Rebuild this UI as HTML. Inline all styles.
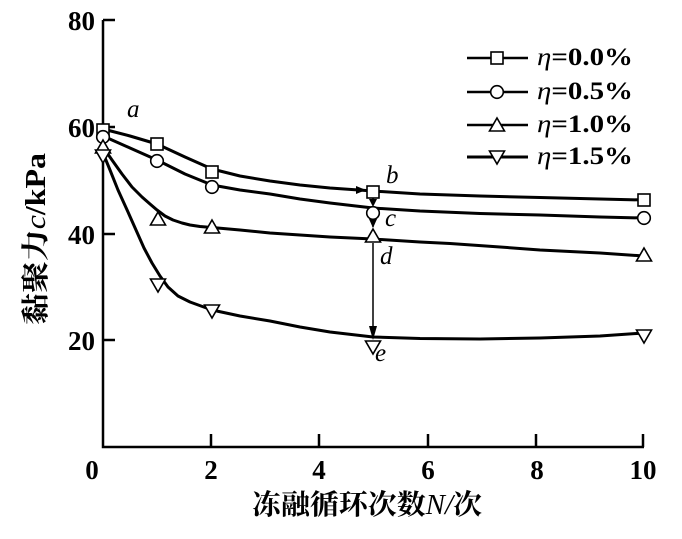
<!DOCTYPE html>
<html>
<head>
<meta charset="utf-8">
<style>
html,body{margin:0;padding:0;background:#fff;}
svg{display:block;}
.num{font-family:"Liberation Serif","Noto Serif CJK SC",serif;font-weight:bold;font-size:27px;fill:#000;}
.it{font-family:"Liberation Serif",serif;font-style:italic;font-size:25px;fill:#000;}
</style>
</head>
<body>
<svg width="682" height="539" viewBox="0 0 682 539" xmlns="http://www.w3.org/2000/svg">
<rect width="682" height="539" fill="#fff"/>
<!-- axes -->
<g stroke="#000" stroke-width="2.5" fill="none">
<polyline points="103,20 103,447 644,447"/>
<line x1="103" y1="20" x2="115" y2="20"/>
<line x1="103" y1="127" x2="115" y2="127"/>
<line x1="103" y1="234" x2="115" y2="234"/>
<line x1="103" y1="340" x2="115" y2="340"/>
<line x1="211" y1="447" x2="211" y2="434"/>
<line x1="319" y1="447" x2="319" y2="434"/>
<line x1="428" y1="447" x2="428" y2="434"/>
<line x1="536" y1="447" x2="536" y2="434"/>
<line x1="643" y1="447" x2="643" y2="434"/>
</g>
<!-- y tick labels -->
<g class="num" text-anchor="end">
<text x="95" y="30">80</text>
<text x="95" y="137">60</text>
<text x="95" y="244">40</text>
<text x="95" y="350">20</text>
</g>
<!-- x tick labels -->
<g class="num" text-anchor="middle">
<text x="92" y="479">0</text>
<text x="211" y="479">2</text>
<text x="319" y="479">4</text>
<text x="428" y="479">6</text>
<text x="537" y="479">8</text>
<text x="643" y="479">10</text>
</g>
<!-- axis titles -->
<text x="252" y="514" textLength="230" lengthAdjust="spacingAndGlyphs" style="font-family:'Liberation Serif','Noto Serif CJK SC',serif;font-weight:bold;font-size:28px;">冻融循环次数<tspan style="font-style:italic;font-weight:normal;">N/</tspan>次</text>
<text transform="translate(45,325) rotate(-90)" x="0" y="0" textLength="172" lengthAdjust="spacingAndGlyphs" style="font-family:'Liberation Serif','Noto Serif CJK SC',serif;font-weight:bold;font-size:28px;">黏聚力<tspan style="font-style:italic;font-weight:normal;">c</tspan>/kPa</text>

<!-- curves -->
<g stroke="#000" stroke-width="3" fill="none" stroke-linejoin="round" stroke-linecap="round">
<polyline points="103,129 130,136 157,144 185,157 212,169 240,176 270,181 300,185 330,188 373,191 420,194 480,196 540,197.5 600,199 644,200"/>
<polyline points="103,136 130,148 157,160 185,174 212,185 240,190 270,194 300,199 330,203 373,208 420,211 480,213.5 540,215 600,217 644,218"/>
<polyline points="103,147 112,160 122,174 132,187 142,197 150,204 157,210 165,216 173,220 182,223 190,225 200,226.5 212,227.5 240,230 270,233 300,235 330,237 373,239 420,242 450,243.5 500,247 540,250 600,253 644,256"/>
<polyline points="103,153 110,170 118,190 128,212 136,230 144,248 152,263 160,276 168,287 178,296 190,302 212,310 240,316 270,321 300,327 330,332 373,337 420,338.5 480,339 540,338 600,336 644,333"/>
</g>

<!-- arrows at N=5 -->
<g stroke="#000" stroke-width="1.5" fill="none">
<line x1="373" y1="198" x2="373" y2="204"/>
<line x1="373" y1="218" x2="373" y2="227"/>
<line x1="373" y1="243" x2="373" y2="334"/>
</g>
<g fill="#000">
<polygon points="369,199 377,199 373,207"/>
<polygon points="369,219 377,219 373,228"/>
<polygon points="369,326 377,326 373,340"/>
<polygon points="356,186 366,190 356,194"/>
</g>

<!-- markers -->
<g fill="#fff" stroke="#000" stroke-width="1.6">
<!-- squares -->
<rect x="97" y="124" width="12" height="12"/>
<rect x="151" y="138" width="12" height="12"/>
<rect x="206" y="166" width="12" height="12"/>
<rect x="367" y="186" width="12" height="12"/>
<rect x="638" y="194" width="12" height="12"/>
<!-- circles -->
<circle cx="103" cy="137" r="6.3"/>
<circle cx="157" cy="161" r="6.3"/>
<circle cx="212" cy="187" r="6.3"/>
<circle cx="373" cy="213" r="6.3"/>
<circle cx="644" cy="218" r="6.3"/>
<!-- up triangles -->
<polygon points="103,140 110.5,153 95.5,153"/>
<polygon points="158,212 165.5,225 150.5,225"/>
<polygon points="212,220 219.5,233 204.5,233"/>
<polygon points="373,229 380.5,242 365.5,242"/>
<polygon points="644,248 651.5,261 636.5,261"/>
<!-- down triangles -->
<polygon points="95.5,150 110.5,150 103,163"/>
<polygon points="150.5,279 165.5,279 158,292"/>
<polygon points="204.5,305 219.5,305 212,318"/>
<polygon points="365.5,341 380.5,341 373,354"/>
<polygon points="636.5,330 651.5,330 644,343"/>
</g>

<!-- point labels -->
<text class="it" x="127" y="117">a</text>
<text class="it" x="386" y="183">b</text>
<text class="it" x="385" y="226">c</text>
<text class="it" x="380" y="264">d</text>
<text class="it" x="375" y="361">e</text>

<!-- legend -->
<g stroke="#000" stroke-width="2.5">
<line x1="467" y1="58" x2="528" y2="58"/>
<line x1="467" y1="92" x2="528" y2="92"/>
<line x1="467" y1="125" x2="528" y2="125"/>
<line x1="467" y1="157" x2="528" y2="157" stroke-width="3"/>
</g>
<g fill="#fff" stroke="#000" stroke-width="1.6">
<rect x="491" y="52" width="12" height="12"/>
<circle cx="497" cy="92" r="6.3"/>
<polygon points="497,118 504.5,131 489.5,131"/>
<polygon points="489.5,151 504.5,151 497,164"/>
</g>
<g style="font-family:'Liberation Serif',serif;font-size:25px;font-weight:bold;">
<text x="537" y="65" textLength="96" lengthAdjust="spacingAndGlyphs"><tspan style="font-style:italic;font-weight:normal;">η</tspan>=0.0%</text>
<text x="537" y="99" textLength="96" lengthAdjust="spacingAndGlyphs"><tspan style="font-style:italic;font-weight:normal;">η</tspan>=0.5%</text>
<text x="537" y="132" textLength="96" lengthAdjust="spacingAndGlyphs"><tspan style="font-style:italic;font-weight:normal;">η</tspan>=1.0%</text>
<text x="537" y="164" textLength="96" lengthAdjust="spacingAndGlyphs"><tspan style="font-style:italic;font-weight:normal;">η</tspan>=1.5%</text>
</g>
</svg>
</body>
</html>
